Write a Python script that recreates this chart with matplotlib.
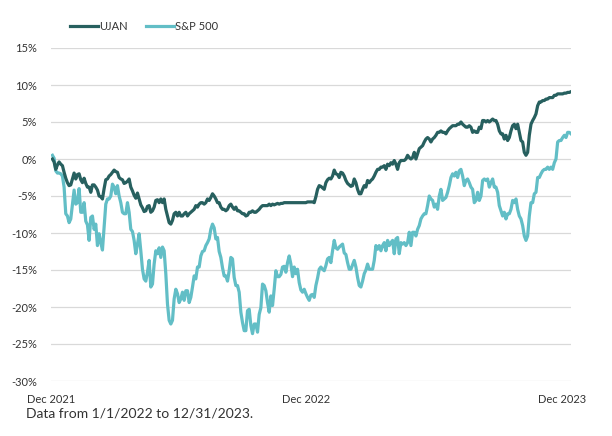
import numpy as np
import pandas as pd
import matplotlib
matplotlib.use("Agg")
import matplotlib.pyplot as plt

# cumulative return (%), evenly spaced from 12/31/2021 to 12/29/2023
ujan = [
    0.0, -0.4, -1.4, -0.8, -0.4, -0.7, -0.9, -1.8, -2.6, -3.2, -3.6, -3.5, -2.7, -1.9, -2.7, -2.1, -2.0, -2.8, -3.2, -2.6,
    -3.3, -3.8, -3.8, -4.5, -3.5, -3.5, -3.8, -4.2, -5.0, -5.1, -5.4, -4.0, -2.8, -2.7, -2.3, -2.1, -1.8, -1.5, -1.7, -1.8,
    -2.5, -2.7, -2.8, -3.3, -3.2, -3.0, -2.7, -3.8, -4.3, -4.9, -5.3, -4.6, -5.4, -6.2, -6.6, -7.1, -7.0, -6.4, -6.3,
    -7.2, -7.0, -6.5, -5.6, -5.5, -5.9, -5.4, -5.9, -5.4, -6.8, -7.7, -8.6, -8.8, -8.3, -7.4, -7.2, -7.7, -7.2, -7.7, -7.7,
    -7.4, -7.2, -7.7, -7.4, -7.2, -7.0, -6.8, -6.3, -6.5, -6.1, -5.9, -5.9, -6.1, -5.9, -5.4, -5.6, -5.2, -4.7, -5.0, -5.4,
    -5.9, -5.9, -6.5, -6.8, -6.8, -7.0, -6.8, -6.3, -6.1, -6.5, -6.8, -6.5, -7.0, -7.0, -7.2, -7.4, -7.4, -7.7, -7.6, -7.2,
    -7.2, -7.0, -7.2,
    -7.2, -7.0, -6.8, -6.5, -6.3, -6.3, -6.3, -6.3, -6.1, -6.3, -6.1, -6.2, -6.1, -6.0, -6.1, -6.0, -6.0, -5.9, -5.9, -5.9,
    -5.9, -5.9, -5.9, -5.9, -5.9, -5.9, -5.9, -5.9, -5.9, -5.9, -5.9, -5.8, -5.8, -5.8, -5.8, -5.9, -5.1, -4.1, -3.6, -3.7,
    -3.9, -4.1, -3.2, -2.8, -2.6, -2.7, -2.3, -1.5, -2.0, -2.1, -2.5, -1.8, -1.9, -2.3, -2.9, -3.3, -3.5, -3.7, -3.6, -2.7,
    -3.2, -4.1, -4.7,
    -4.7, -4.1, -3.6, -3.8, -2.9, -3.2, -2.9, -2.7, -2.3, -1.8, -1.4, -1.4, -1.1, -1.1, -0.9, -1.4, -0.7, -0.9, -0.5, -0.7,
    -0.2, -0.7, -1.4, -0.5, -0.2, -0.2, -0.2, 0.0, 0.5, 0.2, 0.0, 0.2, 0.9, 0.0, 0.7, 1.4, 1.6, 1.8, 2.3, 2.7,
    2.9, 2.7, 2.3, 2.7, 2.9, 3.2, 3.6, 3.6, 3.8, 3.6, 3.6, 3.4, 3.8, 4.1, 4.3, 4.5, 4.5, 4.5, 4.7, 4.7,
    5.0, 4.7, 4.5,
    4.3, 4.3, 4.5, 4.3, 3.6, 3.8, 3.6, 3.6, 4.3, 4.1, 5.2, 5.2, 5.0, 5.2, 5.0, 5.2, 5.4, 5.2, 5.2, 4.7,
    3.8, 3.4, 3.4, 2.7, 3.2, 2.5, 2.9, 3.8, 4.5, 4.7, 4.1, 4.7, 3.6, 2.5, 2.3, 0.9, 0.5, 0.9, 3.2, 4.7,
    5.2, 5.6, 6.1, 7.2, 7.7, 7.7, 7.9, 7.9, 8.1, 8.1, 8.3, 8.3, 8.3, 8.6, 8.6, 8.8, 8.8, 8.8, 8.8, 8.9,
    8.9, 9.0, 9.0, 9.1,
]

sp500 = [
    0.5, 0.1, -1.6, -1.9, -1.9, -2.0, -2.3, -3.8, -7.4, -7.7, -8.6, -8.1, -6.1, -4.2, -6.1, -5.9, -4.0, -7.2, -7.2, -5.9,
    -8.4, -8.9, -11.0, -7.9, -7.7, -9.5, -8.8, -11.7, -10.1, -11.3, -12.3, -9.2, -6.1, -5.4, -5.4, -5.0, -3.4, -3.8, -4.7, -3.6,
    -5.0, -5.9, -7.2, -7.4, -7.4, -5.9, -7.2, -9.5, -9.8, -11.0, -12.8, -11.5, -10.1, -12.4, -14.9, -16.2, -16.5, -15.3, -13.7,
    -17.3, -16.9, -14.2, -12.4, -12.8, -12.0, -13.3, -11.9, -12.4, -15.5, -19.6, -21.8, -22.3, -21.8, -18.9, -17.6, -18.2, -19.4, -18.9, -18.0,
    -19.1, -17.8, -17.8, -19.4, -18.7, -17.3, -15.8, -16.2, -14.6, -14.6, -13.1, -12.5, -12.4, -11.7, -11.3, -10.8, -9.5, -8.8, -9.3, -10.8,
    -10.6, -12.5, -13.3, -14.7, -15.8, -15.8, -16.5, -15.1, -13.3, -13.5, -16.0, -17.1, -17.1, -18.0, -20.7, -22.1, -23.2, -23.2, -20.5, -20.3,
    -22.5, -23.6, -22.3,
    -22.3, -23.4, -21.0, -20.1, -16.9, -17.1, -17.8, -19.4, -20.7, -18.5, -19.8, -17.6, -15.1, -15.9, -15.9, -15.6, -14.6, -14.5, -15.3, -14.0,
    -13.1, -14.2, -15.9, -14.6, -15.5, -14.9, -16.7, -17.7, -18.0, -17.6, -18.2, -18.7, -19.1, -18.4, -18.3, -18.7, -17.1, -16.1, -14.9, -14.6,
    -14.9, -15.1, -14.4, -13.5, -13.3, -14.0, -12.4, -11.0, -12.0, -12.2, -11.9, -11.7, -11.5, -12.7, -12.9, -14.0, -14.9, -14.9, -14.3, -13.7,
    -14.6, -16.0, -17.1,
    -17.3, -16.5, -15.5, -15.0, -14.2, -14.9, -14.9, -14.9, -13.7, -11.7, -12.2, -11.7, -12.4, -11.7, -11.3, -12.4, -11.0, -11.7, -11.3, -11.0,
    -12.8, -10.8, -10.6, -12.8, -11.3, -11.5, -11.3, -11.7, -11.3, -9.9, -11.7, -9.9, -9.9, -10.4, -9.5, -9.0, -8.1, -7.7, -7.4, -7.4,
    -6.3, -5.0, -5.4, -5.6, -6.5, -6.1, -6.8, -5.0, -4.1, -5.6, -5.4, -5.2, -4.5, -3.6, -2.5, -2.0, -2.3, -1.8, -2.5, -1.6,
    -1.4, -2.3, -3.6,
    -2.9, -2.7, -3.2, -3.8, -4.1, -5.9, -5.6, -4.5, -5.6, -5.0, -2.9, -2.7, -2.9, -2.7, -3.8, -3.2, -2.7, -3.8, -3.8, -4.5,
    -6.3, -7.0, -7.7, -7.2, -8.1, -7.4, -7.4, -6.8, -5.6, -5.9, -5.4, -6.8, -7.7, -8.1, -9.0, -10.4, -11.0, -10.4, -7.7, -5.9,
    -5.9, -4.7, -4.5, -2.5, -2.5, -2.0, -1.6, -1.4, -1.4, -1.1, -1.4, -1.1, -1.4, -0.5, 0.0, 2.3, 2.5, 2.5, 2.9, 3.2,
    2.9, 3.6, 3.6, 3.4,
]

start_date = "2021-12-31"
end_date = "2023-12-29"
tick_dates = ["2021-12-29", "2022-12-22", "2023-12-17"]
tick_labels = ["Dec 2021", "Dec 2022", "Dec 2023"]
y_ticks = [15, 10, 5, 0, -5, -10, -15, -20, -25, -30]

dates = pd.date_range(start_date, end_date, periods=len(ujan))

dark = "#27605f"
light = "#62bec6"
txt = "#333333"
plt.rcParams["font.family"] = ["Lato", "DejaVu Sans"]

fig = plt.figure(figsize=(6.12, 4.36), dpi=100)
ax = fig.add_axes([51 / 612, 1 - 381 / 436, 520 / 612, 333 / 436])

ax.plot(dates, ujan, color=dark, lw=2.3, label="UJAN", zorder=3, solid_joinstyle="round")
ax.plot(dates, sp500, color=light, lw=2.3, label="S&P 500", zorder=2, solid_joinstyle="round")

ax.set_ylim(-30, 15)
ax.set_xlim(pd.Timestamp(start_date), pd.Timestamp(end_date))
ax.set_yticks(y_ticks)
ax.set_yticklabels([f"{v}%" for v in y_ticks])
ax.set_xticks(pd.to_datetime(tick_dates))
ax.set_xticklabels(tick_labels)
ax.grid(axis="y", color="#d9d9d9", lw=0.9)
ax.set_axisbelow(True)
for s in ax.spines.values():
    s.set_visible(False)
ax.tick_params(axis="both", length=0, labelsize=8, colors=txt)
ax.tick_params(axis="y", pad=10)
ax.tick_params(axis="x", pad=9)

fig.legend(loc="upper left", bbox_to_anchor=(0.098, 0.975), ncol=2, frameon=False,
           fontsize=8, handlelength=2.5, handletextpad=0.15, columnspacing=1.6,
           labelcolor=txt)

fig.text(26 / 612, 1 - 413 / 436, "Data from 1/1/2022 to 12/31/2023.", fontsize=10,
         color=txt, va="center", ha="left")

fig.savefig("out.png", dpi=100)
